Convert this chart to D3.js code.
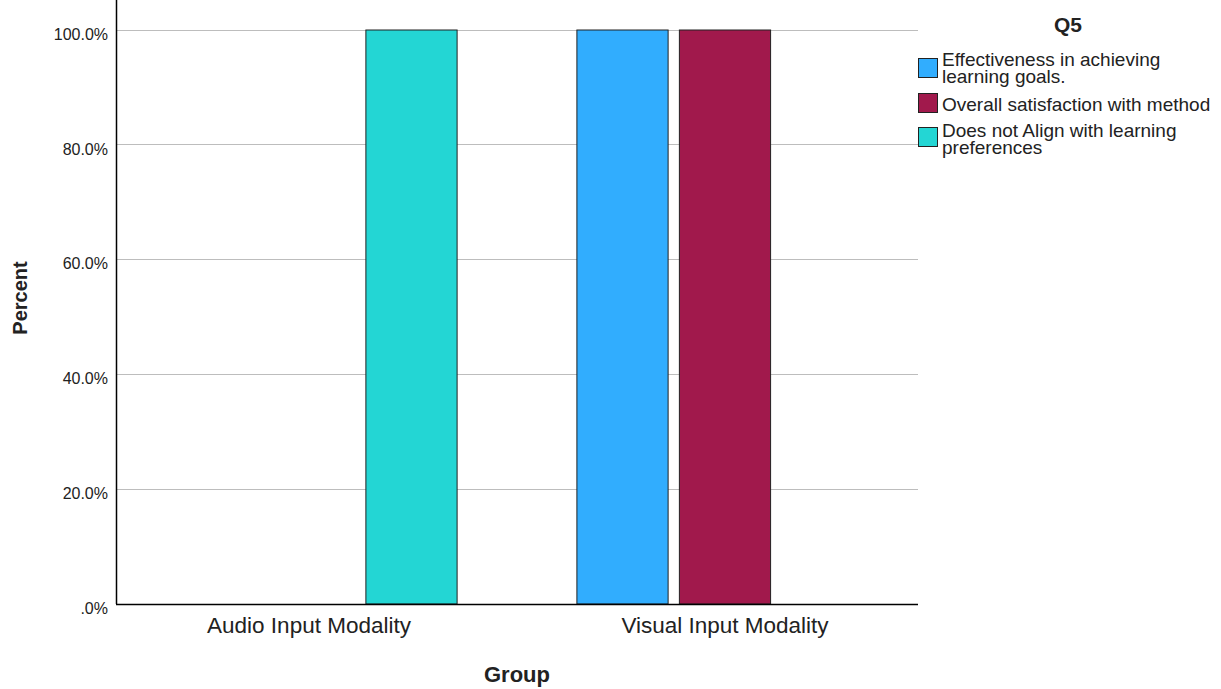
<!DOCTYPE html>
<html><head><meta charset="utf-8">
<script src="https://cdn.jsdelivr.net/npm/d3@7"></script>
<style>body{margin:0;background:#fff}svg{display:block}text{font-family:"Liberation Sans",Arial,sans-serif}</style>
</head><body>
<svg id="c" width="1221" height="689"></svg>
<script>
const groups = ["Audio Input Modality", "Visual Input Modality"];
const series = ["Effectiveness in achieving learning goals.", "Overall satisfaction with method", "Does not Align with learning preferences"];
const seriesLines = [["Effectiveness in achieving", "learning goals."], ["Overall satisfaction with method"], ["Does not Align with learning", "preferences"]];
const colors = ["#31adfe", "#a1194c", "#23d6d4"];
const values = [
  [0, 0, 100],
  [100, 100, 0]
];
const yTicks = [0, 20, 40, 60, 80, 100];

const svg = d3.select("#c");
const L = 116, R = 918, T = 30, B = 604;
const y = d3.scaleLinear().domain([0, 100]).range([B, T]);
const x0 = d3.scaleBand().domain(groups).range([L, R]).paddingInner(0.288).paddingOuter(0.108);
const x1 = d3.scaleBand().domain(series).range([0, x0.bandwidth()]).paddingInner(0.11);
const fmt = v => v === 0 ? ".0%" : v.toFixed(1) + "%";

// gridlines
svg.append("g").selectAll("line").data(yTicks.filter(t => t > 0)).join("line")
  .attr("x1", L).attr("x2", R).attr("y1", d => y(d)).attr("y2", d => y(d))
  .attr("stroke", "#bdbdbd").attr("stroke-width", 1).attr("shape-rendering", "crispEdges");

// y axis
const yAxis = d3.axisLeft(y).tickValues(yTicks).tickFormat(fmt).tickSize(0).tickPadding(8);
const gy = svg.append("g").attr("transform", `translate(${L},0)`).call(yAxis);
gy.select(".domain").remove();
gy.selectAll("text").attr("font-size", 16).attr("dy", "0.58em").attr("fill", "#222")
  .attr("font-family", "Liberation Sans, Arial, sans-serif");

// bars
const bars = svg.append("g");
groups.forEach((g, gi) => {
  series.forEach((s, si) => {
    const v = values[gi][si];
    if (v <= 0) return;
    bars.append("rect")
      .attr("x", x0(g) + x1(s)).attr("width", x1.bandwidth())
      .attr("y", y(v)).attr("height", y(0) - y(v))
      .attr("fill", colors[si]).attr("stroke", "#222").attr("stroke-width", 1);
  });
});

// axis lines
svg.append("line").attr("x1", L + 0.5).attr("x2", L + 0.5).attr("y1", 0).attr("y2", B)
  .attr("stroke", "#000").attr("stroke-width", 1.5);
const xAxis = d3.axisBottom(x0).tickSize(0).tickPadding(13);
const gx = svg.append("g").attr("transform", `translate(0,${B})`).call(xAxis);
gx.select(".domain").attr("d", `M${L},0.5H${R}`).attr("stroke", "#000").attr("stroke-width", 1.5);
gx.selectAll("text").attr("font-size", 22.5).attr("fill", "#222").attr("font-family", "Liberation Sans, Arial, sans-serif");

// axis titles
svg.append("text").attr("x", 517).attr("y", 682).attr("text-anchor", "middle")
  .attr("font-size", 22).attr("font-weight", "bold").attr("fill", "#222").text("Group");
svg.append("text").attr("transform", "translate(27,298) rotate(-90)").attr("text-anchor", "middle")
  .attr("font-size", 20).attr("font-weight", "bold").attr("fill", "#222").text("Percent");

// legend
const lg = svg.append("g");
lg.append("text").attr("x", 1068).attr("y", 32).attr("text-anchor", "middle")
  .attr("font-size", 21).attr("font-weight", "bold").attr("fill", "#222").text("Q5");
const itemY = [58, 93, 127];
const textY = [66, 110.5, 137];
series.forEach((s, i) => {
  lg.append("rect").attr("x", 918.5).attr("y", itemY[i] + 0.5).attr("width", 19).attr("height", 19)
    .attr("fill", colors[i]).attr("stroke", "#222").attr("stroke-width", 1);
  const t = lg.append("text").attr("x", 942).attr("y", textY[i]).attr("font-size", 19).attr("fill", "#222");
  seriesLines[i].forEach((ln, k) => t.append("tspan").attr("x", 942).attr("dy", k === 0 ? 0 : 17).text(ln));
});
</script>
</body></html>
